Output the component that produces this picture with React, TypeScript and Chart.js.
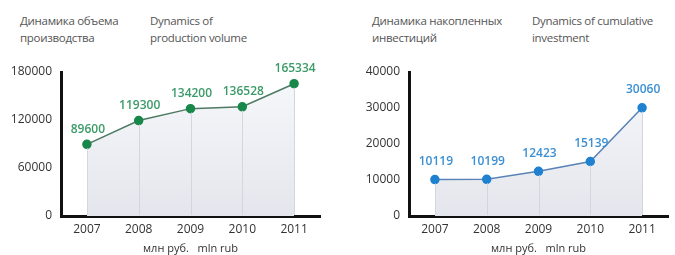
import React, { useEffect, useRef } from "react";
import { Chart, registerables } from "chart.js";

Chart.register(...registerables);

const years = ["2007", "2008", "2009", "2010", "2011"];
const production = [89600, 119300, 134200, 136528, 165334];
const investment = [10119, 10199, 12423, 15139, 30060];
const prodTicks = [0, 60000, 120000, 180000];
const invTicks = [0, 10000, 20000, 30000, 40000];

const FONT = "'Open Sans', 'DejaVu Sans', sans-serif";

function makeConfig(
  data: number[],
  ticks: number[],
  lineColor: string,
  pointColor: string,
  labelColor: string,
  labelOffset: number,
  yWidth: number
) {
  const pointLabels = {
    id: "pointLabels",
    afterDatasetsDraw(chart: any) {
      const ctx = chart.ctx;
      const meta = chart.getDatasetMeta(0);
      const bottom = chart.scales.y.getPixelForValue(0);
      ctx.save();
      ctx.strokeStyle = "#d3d6de";
      ctx.lineWidth = 1;
      meta.data.forEach((p: any) => {
        ctx.beginPath();
        ctx.moveTo(Math.round(p.x) + 0.5, p.y + 4);
        ctx.lineTo(Math.round(p.x) + 0.5, bottom - 1);
        ctx.stroke();
      });
      ctx.fillStyle = labelColor;
      ctx.font = `600 12px ${FONT}`;
      ctx.textAlign = "center";
      ctx.textBaseline = "middle";
      meta.data.forEach((p: any, i: number) => {
        ctx.fillText(String(data[i]), p.x + 1, p.y - labelOffset);
      });
      ctx.restore();
    },
  };

  return {
    type: "line" as const,
    data: {
      labels: years,
      datasets: [
        {
          data,
          borderColor: lineColor,
          borderWidth: 1.5,
          pointBackgroundColor: pointColor,
          pointBorderColor: pointColor,
          pointRadius: 4,
          tension: 0,
          fill: "origin",
          backgroundColor: (c: any) => {
            const area = c.chart.chartArea;
            if (!area) return "#eceef3";
            const g = c.chart.ctx.createLinearGradient(0, area.top, 0, area.bottom);
            g.addColorStop(0, "#f7f8fb");
            g.addColorStop(1, "#e4e6ed");
            return g;
          },
        },
      ],
    },
    options: {
      animation: false,
      responsive: false,
      maintainAspectRatio: false,
      layout: { padding: { top: 22, right: 15, left: 0, bottom: 0 } },
      plugins: { legend: { display: false }, tooltip: { enabled: false } },
      scales: {
        x: {
          offset: true,
          grid: { display: false, drawTicks: false },
          border: { display: true, color: "#111", width: 3 },
          ticks: { color: "#333", font: { family: FONT, size: 12 }, padding: 6 },
          title: {
            display: true,
            text: "млн руб.   mln rub",
            color: "#333",
            font: { family: FONT, size: 11 },
            padding: { top: 0, bottom: 0 },
          },
          afterFit: (s: any) => {
            s.height = 39;
          },
        },
        y: {
          min: ticks[0],
          max: ticks[ticks.length - 1],
          afterBuildTicks: (s: any) => {
            s.ticks = ticks.map((v) => ({ value: v }));
          },
          grid: { display: false, drawTicks: false },
          border: { display: true, color: "#111", width: 3 },
          ticks: {
            color: "#333",
            font: { family: FONT, size: 12 },
            padding: 9,
            callback: (v: any) => String(v),
          },
          afterFit: (s: any) => {
            s.width = yWidth;
          },
        },
      },
    },
    plugins: [pointLabels],
  };
}

function LineChart(props: {
  data: number[];
  ticks: number[];
  lineColor: string;
  pointColor: string;
  labelColor: string;
  labelOffset: number;
  left: number;
  yWidth: number;
}) {
  const ref = useRef<HTMLCanvasElement>(null);
  useEffect(() => {
    const cfg: any = makeConfig(
      props.data,
      props.ticks,
      props.lineColor,
      props.pointColor,
      props.labelColor,
      props.labelOffset,
      props.yWidth
    );
    const chart = new Chart(ref.current as HTMLCanvasElement, cfg);
    return () => chart.destroy();
  }, []);
  return (
    <canvas
      ref={ref}
      width={335}
      height={205}
      style={{ position: "absolute", left: props.left, top: 50, width: 335, height: 205 }}
    />
  );
}

const titleStyle: React.CSSProperties = {
  position: "absolute",
  fontFamily: FONT,
  fontSize: 11.5,
  lineHeight: "17px",
  color: "#555",
  whiteSpace: "nowrap",
  letterSpacing: -0.3,
};

export default function App() {
  return (
    <div
      style={{
        position: "fixed",
        left: 0,
        top: 0,
        width: 675,
        height: 255,
        background: "#fff",
        overflow: "hidden",
      }}
    >
      <div style={{ ...titleStyle, left: 20, top: 12 }}>
        Динамика объема
        <br />
        производства
      </div>
      <div style={{ ...titleStyle, left: 150, top: 12 }}>
        Dynamics of
        <br />
        production volume
      </div>
      <div style={{ ...titleStyle, left: 372, top: 12 }}>
        Динамика накопленных
        <br />
        инвестиций
      </div>
      <div style={{ ...titleStyle, left: 532, top: 12 }}>
        Dynamics of cumulative
        <br />
        investment
      </div>
      <LineChart
        data={production}
        ticks={prodTicks}
        lineColor="#4d7a62"
        pointColor="#17884a"
        labelColor="#3b9a68"
        labelOffset={15}
        left={0}
        yWidth={61}
      />
      <LineChart
        data={investment}
        ticks={invTicks}
        lineColor="#5a83b5"
        pointColor="#1f82d0"
        labelColor="#3a8fd2"
        labelOffset={18}
        left={348}
        yWidth={61}
      />
    </div>
  );
}
